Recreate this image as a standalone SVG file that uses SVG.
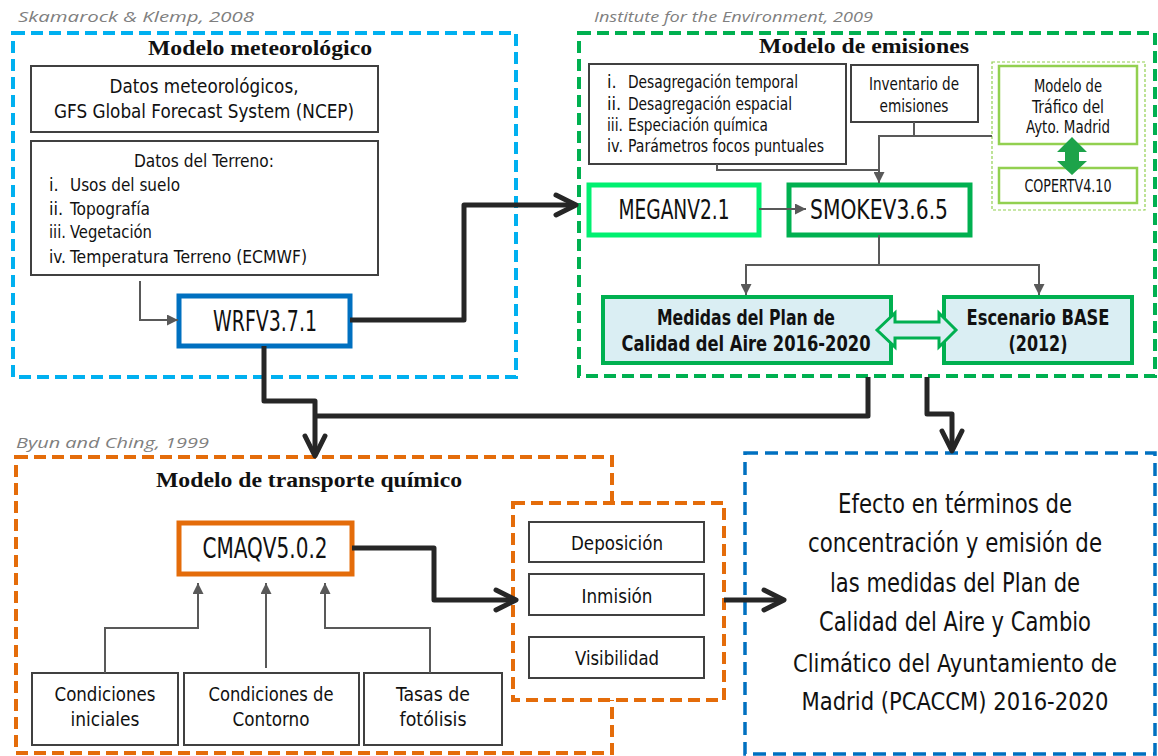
<svg xmlns="http://www.w3.org/2000/svg" width="1158" height="756" viewBox="0 0 1158 756">
<style>
.t{font-family:"DejaVu Sans Condensed","DejaVu Sans",sans-serif;fill:#111;}
.c{text-anchor:middle;}
.b{font-weight:bold;}
.ttl{font-family:"Liberation Serif",serif;font-weight:bold;fill:#111;text-anchor:middle;}
.src{font-family:"Open Sans","DejaVu Sans",sans-serif;font-style:italic;fill:#7f7f7f;font-size:15px;}
.box{fill:#fff;stroke:#404040;stroke-width:2;}
.gl{fill:none;stroke:#595959;stroke-width:2;}
.bl{fill:none;stroke:#262626;stroke-width:5;stroke-linejoin:round;}
</style>
<defs>
<marker id="ga" viewBox="0 0 10 10" refX="10" refY="5" markerWidth="11" markerHeight="11" markerUnits="userSpaceOnUse" orient="auto">
<path d="M0,0 L10,5 L0,10 z" fill="#595959"/>
</marker>
<marker id="ba" viewBox="0 0 26 26" refX="20" refY="13" markerWidth="26" markerHeight="26" markerUnits="userSpaceOnUse" orient="auto" overflow="visible">
<path d="M2,3 L22,13 L2,23" fill="none" stroke="#262626" stroke-width="5" stroke-linecap="round" stroke-linejoin="round"/>
</marker>
</defs>
<rect width="1158" height="756" fill="#fff"/>

<g id="group-meteo">
<text class="src" x="18" y="22" textLength="236" lengthAdjust="spacingAndGlyphs">Skamarock &amp; Klemp, 2008</text>
<rect x="13" y="33" width="503" height="344" fill="none" stroke="#00B0F0" stroke-width="4" stroke-dasharray="12 6"/>
<text class="ttl" x="260" y="55" font-size="20" textLength="224" lengthAdjust="spacingAndGlyphs">Modelo meteorológico</text>
</g>

<g id="group-emis">
<text class="src" x="594" y="22" textLength="279" lengthAdjust="spacingAndGlyphs">Institute for the Environment, 2009</text>
<rect x="579" y="33" width="576" height="343" fill="none" stroke="#00B050" stroke-width="4" stroke-dasharray="12 6"/>
<text class="ttl" x="864" y="53" font-size="20" textLength="210" lengthAdjust="spacingAndGlyphs">Modelo de emisiones</text>
</g>

<g id="group-ctm">
<text class="src" x="16" y="448" textLength="193" lengthAdjust="spacingAndGlyphs">Byun and Ching, 1999</text>
<rect x="16" y="457" width="596" height="296" fill="none" stroke="#E46C0A" stroke-width="4" stroke-dasharray="12 6"/>
<text class="ttl" x="309" y="487" font-size="20" textLength="306" lengthAdjust="spacingAndGlyphs">Modelo de transporte químico</text>
</g>

<g id="node-datos-meteo">
<rect class="box" x="31" y="66" width="347" height="66"/>
<text class="t c" x="204" y="93" font-size="20" textLength="189" lengthAdjust="spacingAndGlyphs">Datos meteorológicos,</text>
<text class="t c" x="204" y="118" font-size="20" textLength="300" lengthAdjust="spacingAndGlyphs">GFS Global Forecast System (NCEP)</text>
</g>

<g id="node-terreno">
<rect class="box" x="31" y="141" width="347" height="134"/>
<text class="t c" x="204" y="167" font-size="18" textLength="140" lengthAdjust="spacingAndGlyphs">Datos del Terreno:</text>
<text class="t" x="49" y="191" font-size="18">i.</text>
<text class="t" x="70" y="191" font-size="18" textLength="110" lengthAdjust="spacingAndGlyphs">Usos del suelo</text>
<text class="t" x="49" y="215" font-size="18">ii.</text>
<text class="t" x="70" y="215" font-size="18" textLength="80" lengthAdjust="spacingAndGlyphs">Topografía</text>
<text class="t" x="49" y="238" font-size="18" textLength="17" lengthAdjust="spacingAndGlyphs">iii.</text>
<text class="t" x="70" y="238" font-size="18" textLength="82" lengthAdjust="spacingAndGlyphs">Vegetación</text>
<text class="t" x="49" y="263" font-size="18" textLength="17" lengthAdjust="spacingAndGlyphs">iv.</text>
<text class="t" x="70" y="263" font-size="18" textLength="237" lengthAdjust="spacingAndGlyphs">Temperatura Terreno (ECMWF)</text>
</g>

<g id="node-wrf">
<rect x="179" y="296" width="171" height="50" fill="#fff" stroke="#0070C0" stroke-width="5"/>
<text class="t c" x="265" y="331" font-size="29" textLength="104" lengthAdjust="spacingAndGlyphs">WRFV3.7.1</text>
</g>

<g id="node-procesos">
<rect class="box" x="589" y="64" width="257" height="100"/>
<text class="t" x="607" y="88" font-size="18">i.</text>
<text class="t" x="628" y="88" font-size="18" textLength="170" lengthAdjust="spacingAndGlyphs">Desagregación temporal</text>
<text class="t" x="607" y="110" font-size="18">ii.</text>
<text class="t" x="628" y="110" font-size="18" textLength="164" lengthAdjust="spacingAndGlyphs">Desagregación espacial</text>
<text class="t" x="607" y="131" font-size="18" textLength="16" lengthAdjust="spacingAndGlyphs">iii.</text>
<text class="t" x="628" y="131" font-size="18" textLength="140" lengthAdjust="spacingAndGlyphs">Especiación química</text>
<text class="t" x="607" y="152" font-size="18" textLength="16" lengthAdjust="spacingAndGlyphs">iv.</text>
<text class="t" x="628" y="152" font-size="18" textLength="196" lengthAdjust="spacingAndGlyphs">Parámetros focos puntuales</text>
</g>

<g id="node-inventario">
<rect class="box" x="851" y="65" width="127" height="57"/>
<text class="t c" x="914" y="90" font-size="18" textLength="90" lengthAdjust="spacingAndGlyphs">Inventario de</text>
<text class="t c" x="914" y="112" font-size="18" textLength="69" lengthAdjust="spacingAndGlyphs">emisiones</text>
</g>

<g id="node-trafico-grupo">
<rect x="992" y="62" width="153" height="148" fill="none" stroke="#92D050" stroke-width="1.2" stroke-dasharray="3 2"/>
</g>

<g id="node-trafico">
<rect x="999" y="66" width="138" height="78" fill="#fff" stroke="#92D050" stroke-width="2.5"/>
<text class="t c" x="1068" y="92" font-size="18" textLength="68" lengthAdjust="spacingAndGlyphs">Modelo de</text>
<text class="t c" x="1068" y="113" font-size="18" textLength="72" lengthAdjust="spacingAndGlyphs">Tráfico del</text>
<text class="t c" x="1068" y="133" font-size="18" textLength="84" lengthAdjust="spacingAndGlyphs">Ayto. Madrid</text>
</g>

<g id="node-copert">
<rect x="999" y="168" width="138" height="35" fill="#fff" stroke="#92D050" stroke-width="2.5"/>
<text class="t c" x="1068" y="192" font-size="18" textLength="87" lengthAdjust="spacingAndGlyphs">COPERTV4.10</text>
</g>

<g id="node-megan">
<rect x="589" y="185" width="170" height="50" fill="#fff" stroke="#00F070" stroke-width="5"/>
<text class="t c" x="674" y="219" font-size="27" textLength="111" lengthAdjust="spacingAndGlyphs">MEGANV2.1</text>
</g>

<g id="node-smoke">
<rect x="789" y="185" width="181" height="50" fill="#fff" stroke="#00B050" stroke-width="5"/>
<text class="t c" x="879" y="219" font-size="27" textLength="138" lengthAdjust="spacingAndGlyphs">SMOKEV3.6.5</text>
</g>

<g id="node-medidas">
<rect x="603" y="297" width="288" height="66" fill="#DAEEF3" stroke="#00B050" stroke-width="4"/>
<text class="t c b" x="746" y="325" font-size="21" textLength="178" lengthAdjust="spacingAndGlyphs">Medidas del Plan de</text>
<text class="t c b" x="746" y="351" font-size="21" textLength="249" lengthAdjust="spacingAndGlyphs">Calidad del Aire 2016-2020</text>
</g>

<g id="node-escenario">
<rect x="944" y="297" width="188" height="66" fill="#DAEEF3" stroke="#00B050" stroke-width="4"/>
<text class="t c b" x="1038" y="325" font-size="21" textLength="143" lengthAdjust="spacingAndGlyphs">Escenario BASE</text>
<text class="t c b" x="1038" y="351" font-size="21" textLength="59" lengthAdjust="spacingAndGlyphs">(2012)</text>
</g>

<g id="node-cmaq">
<rect x="179" y="523" width="173" height="51" fill="#fff" stroke="#E46C0A" stroke-width="5"/>
<text class="t c" x="265" y="558" font-size="28" textLength="125" lengthAdjust="spacingAndGlyphs">CMAQV5.0.2</text>
</g>

<g id="node-salidas">
<rect x="513" y="503" width="211" height="197" fill="#fff" stroke="#E46C0A" stroke-width="4" stroke-dasharray="12 6"/>
</g>

<g id="node-deposicion">
<rect class="box" x="529" y="522" width="175" height="40"/>
<text class="t c" x="617" y="550" font-size="19" textLength="92" lengthAdjust="spacingAndGlyphs">Deposición</text>
</g>

<g id="node-inmision">
<rect class="box" x="529" y="574" width="175" height="41"/>
<text class="t c" x="617" y="603" font-size="19" textLength="71" lengthAdjust="spacingAndGlyphs">Inmisión</text>
</g>

<g id="node-visibilidad">
<rect class="box" x="529" y="637" width="175" height="41"/>
<text class="t c" x="617" y="665" font-size="19" textLength="84" lengthAdjust="spacingAndGlyphs">Visibilidad</text>
</g>

<g id="node-cond-iniciales">
<rect class="box" x="32" y="673" width="146" height="72"/>
<text class="t c" x="105" y="701" font-size="19" textLength="101" lengthAdjust="spacingAndGlyphs">Condiciones</text>
<text class="t c" x="105" y="726" font-size="19" textLength="69" lengthAdjust="spacingAndGlyphs">iniciales</text>
</g>

<g id="node-cond-contorno">
<rect class="box" x="184" y="673" width="175" height="72"/>
<text class="t c" x="271" y="701" font-size="19" textLength="125" lengthAdjust="spacingAndGlyphs">Condiciones de</text>
<text class="t c" x="271" y="726" font-size="19" textLength="77" lengthAdjust="spacingAndGlyphs">Contorno</text>
</g>

<g id="node-tasas">
<rect class="box" x="364" y="673" width="138" height="72"/>
<text class="t c" x="433" y="701" font-size="19" textLength="74" lengthAdjust="spacingAndGlyphs">Tasas de</text>
<text class="t c" x="433" y="726" font-size="19" textLength="67" lengthAdjust="spacingAndGlyphs">fotólisis</text>
</g>

<g id="node-efecto">
<rect x="745" y="453" width="410" height="301" fill="#fff" stroke="#0070C0" stroke-width="3.5" stroke-dasharray="13 7"/>
<text class="t c" x="955" y="513" font-size="26" textLength="234" lengthAdjust="spacingAndGlyphs">Efecto en términos de</text>
<text class="t c" x="955" y="552" font-size="26" textLength="294" lengthAdjust="spacingAndGlyphs">concentración y emisión de</text>
<text class="t c" x="955" y="592" font-size="26" textLength="250" lengthAdjust="spacingAndGlyphs">las medidas del Plan de</text>
<text class="t c" x="955" y="631" font-size="26" textLength="272" lengthAdjust="spacingAndGlyphs">Calidad del Aire y Cambio</text>
<text class="t c" x="955" y="672" font-size="25" textLength="324" lengthAdjust="spacingAndGlyphs">Climático del Ayuntamiento de</text>
<text class="t c" x="955" y="710" font-size="25" textLength="307" lengthAdjust="spacingAndGlyphs">Madrid (PCACCM) 2016-2020</text>
</g>

<g id="connectors">
<path class="gl" d="M140,281 V320 H178" marker-end="url(#ga)"/>
<path class="bl" d="M350,320 H464 V205 H574" marker-end="url(#ba)"/>
<path class="bl" d="M264,346 V401 H315 V454" marker-end="url(#ba)"/>
<path class="bl" d="M868,377 V416 H315"/>
<path class="bl" d="M927,377 V414 H952 V449" marker-end="url(#ba)"/>
<path class="gl" d="M914,122 V136"/>
<path class="gl" d="M992,136 H879 V183" marker-end="url(#ga)"/>
<path class="gl" d="M717,164 V170 H879"/>
<path class="gl" d="M759,209 H806" marker-end="url(#ga)"/>
<path class="gl" d="M879,235 V265 H746 V295" marker-end="url(#ga)"/>
<path class="gl" d="M879,265 H1039 V295" marker-end="url(#ga)"/>
<path class="bl" d="M352,548 H434 V600 H514" marker-end="url(#ba)"/>
<path class="bl" d="M724,600 H782" marker-end="url(#ba)"/>
<path class="gl" d="M105,673 V628 H198 V583" marker-end="url(#ga)"/>
<path class="gl" d="M266,668 V583" marker-end="url(#ga)"/>
<path class="gl" d="M430,673 V628 H325 V583" marker-end="url(#ga)"/>
<polygon points="1072,137 1087,152 1079,152 1079,161 1087,161 1072,175 1057,161 1065,161 1065,152 1057,152" fill="#1DA34A"/>
<polygon points="877,330 895,313 895,322 939,322 939,313 956,330 939,347 939,338 895,338 895,347" fill="#DAEEF3" stroke="#00B050" stroke-width="3" stroke-linejoin="miter"/>
</g>
</svg>
